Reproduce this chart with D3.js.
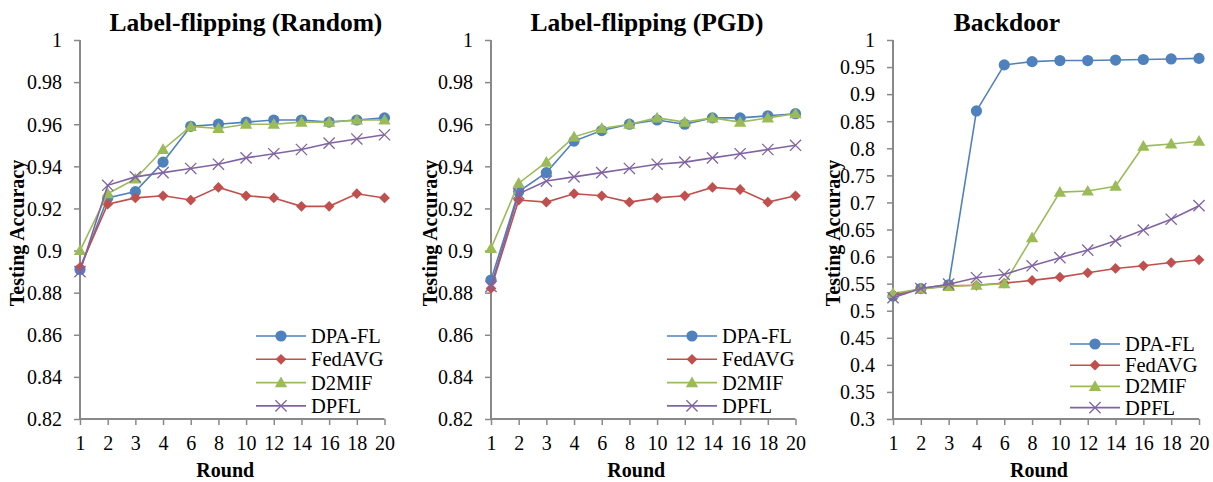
<!DOCTYPE html>
<html>
<head>
<meta charset="utf-8">
<script src="https://cdn.jsdelivr.net/npm/d3@7"></script>
<style>
  html, body { margin: 0; padding: 0; background: #fff; }
  svg { display: block; }
  svg text { font-family: "Liberation Serif", "Times New Roman", serif; }
</style>
</head>
<body>
<svg id="chart" width="1213" height="482"></svg>
<script>
// Communication rounds (categorical x axis)
const rounds = ["1", "2", "3", "4", "6", "8", "10", "12", "14", "16", "18", "20"];
const methods = ["DPA-FL", "FedAVG", "D2MIF", "DPFL"];
const titles = ["Label-flipping (Random)", "Label-flipping (PGD)", "Backdoor"];

// Label-flipping (Random)
const randomDPAFL  = [0.891, 0.925, 0.928, 0.942, 0.959, 0.960, 0.961, 0.962, 0.962, 0.961, 0.962, 0.963];
const randomFedAVG = [0.892, 0.922, 0.925, 0.926, 0.924, 0.930, 0.926, 0.925, 0.921, 0.921, 0.927, 0.925];
const randomD2MIF  = [0.900, 0.927, 0.934, 0.948, 0.959, 0.958, 0.960, 0.960, 0.961, 0.961, 0.962, 0.962];
const randomDPFL   = [0.890, 0.931, 0.935, 0.937, 0.939, 0.941, 0.944, 0.946, 0.948, 0.951, 0.953, 0.955];

// Label-flipping (PGD)
const pgdDPAFL  = [0.886, 0.928, 0.937, 0.952, 0.957, 0.960, 0.962, 0.960, 0.963, 0.963, 0.964, 0.965];
const pgdFedAVG = [0.882, 0.924, 0.923, 0.927, 0.926, 0.923, 0.925, 0.926, 0.930, 0.929, 0.923, 0.926];
const pgdD2MIF  = [0.901, 0.932, 0.942, 0.954, 0.958, 0.960, 0.963, 0.961, 0.963, 0.961, 0.963, 0.965];
const pgdDPFL   = [0.883, 0.927, 0.933, 0.935, 0.937, 0.939, 0.941, 0.942, 0.944, 0.946, 0.948, 0.950];

// Backdoor
const backdoorDPAFL  = [0.527, 0.541, 0.548, 0.869, 0.954, 0.960, 0.962, 0.962, 0.963, 0.964, 0.965, 0.966];
const backdoorFedAVG = [0.529, 0.540, 0.546, 0.547, 0.551, 0.556, 0.562, 0.570, 0.578, 0.583, 0.589, 0.594];
const backdoorD2MIF  = [0.532, 0.540, 0.545, 0.547, 0.550, 0.635, 0.719, 0.721, 0.730, 0.804, 0.808, 0.813];
const backdoorDPFL   = [0.524, 0.541, 0.549, 0.561, 0.567, 0.583, 0.598, 0.612, 0.629, 0.649, 0.669, 0.694];

// Y axis ticks per panel
const accTicks = [0.82, 0.84, 0.86, 0.88, 0.9, 0.92, 0.94, 0.96, 0.98, 1];
const backdoorTicks = [0.3, 0.35, 0.4, 0.45, 0.5, 0.55, 0.6, 0.65, 0.7, 0.75, 0.8, 0.85, 0.9, 0.95, 1];

const colors = { "DPA-FL": "#4F81BD", "FedAVG": "#C0504D", "D2MIF": "#9BBB59", "DPFL": "#8064A2" };
const axisColor = "#898989";
const serif = "Liberation Serif, Times New Roman, serif";

const svg = d3.select("#chart");

function marker(g, name, x, y) {
  const c = colors[name];
  const t = `translate(${x},${y})`;
  if (name === "DPA-FL") {
    g.append("circle").attr("cx", x).attr("cy", y).attr("r", 5.6).attr("fill", c);
  } else if (name === "FedAVG") {
    g.append("path").attr("d", d3.symbol(d3.symbolSquare, 58)())
      .attr("transform", t + " rotate(45)").attr("fill", c);
  } else if (name === "D2MIF") {
    g.append("path").attr("d", d3.symbol(d3.symbolTriangle, 66)())
      .attr("transform", t + " translate(0,1)").attr("fill", c);
  } else {
    const h = 5.6;
    g.append("path").attr("d", `M${-h},${-h}L${h},${h}M${-h},${h}L${h},${-h}`)
      .attr("transform", t).attr("stroke", c).attr("stroke-width", 1.3).attr("fill", "none");
  }
}

function drawPanel(cfg) {
  const x = d3.scalePoint().domain(rounds).range([cfg.x0, cfg.x1]);
  const y = d3.scaleLinear().domain(cfg.domain).range([cfg.y1, cfg.y0]);
  const g = svg.append("g").attr("font-family", serif);

  // y axis
  const ya = g.append("g").attr("transform", `translate(${cfg.x0},0)`)
    .call(d3.axisLeft(y).tickValues(cfg.ticks).tickSize(6).tickPadding(12)
      .tickFormat(d => String(+d.toFixed(2))));
  // x axis
  const xa = g.append("g").attr("transform", `translate(0,${cfg.y1})`)
    .call(d3.axisBottom(x).tickSize(6).tickPadding(11));
  [ya, xa].forEach(a => {
    a.attr("font-family", serif).attr("font-size", 20);
    a.select(".domain").attr("stroke", axisColor).attr("stroke-width", 2)
      .attr("d", a === ya ? `M0,${cfg.y0}V${cfg.y1}` : `M${cfg.x0},0H${cfg.x1}`);
    a.selectAll(".tick line").attr("stroke", axisColor).attr("stroke-width", 1.5);
    a.selectAll(".tick text").attr("fill", "#000");
  });
  ya.selectAll(".tick text").attr("dy", "0.34em");

  // series lines and markers
  const line = d3.line().x((d, i) => x(rounds[i])).y(d => y(d));
  cfg.series.forEach((vals, k) => {
    const name = methods[k];
    g.append("path").datum(vals).attr("d", line)
      .attr("fill", "none").attr("stroke", colors[name]).attr("stroke-width", 1.6);
    const mg = g.append("g");
    vals.forEach((v, i) => marker(mg, name, x(rounds[i]), y(v)));
  });

  // titles
  g.append("text").attr("x", cfg.titleX).attr("y", 31).attr("text-anchor", "middle")
    .attr("font-size", 25.5).attr("font-weight", "bold").text(cfg.title);
  g.append("text").attr("x", (cfg.x0 + cfg.x1) / 2 - 7).attr("y", 477).attr("text-anchor", "middle")
    .attr("font-size", 20).attr("font-weight", "bold").text("Round");
  g.append("text").attr("transform", `translate(${cfg.yTitleX},233) rotate(-90)`)
    .attr("text-anchor", "middle").attr("dy", "0.35em")
    .attr("font-size", 20).attr("font-weight", "bold").text("Testing Accuracy");

  // legend
  methods.forEach((name, k) => {
    const ly = cfg.legY + k * cfg.legStep;
    g.append("line").attr("x1", cfg.legX).attr("x2", cfg.legX + 50).attr("y1", ly).attr("y2", ly)
      .attr("stroke", colors[name]).attr("stroke-width", 1.6);
    marker(g, name, cfg.legX + 25, ly);
    g.append("text").attr("x", cfg.legX + 55).attr("y", ly).attr("dy", "0.34em")
      .attr("font-size", 20.5).text(name);
  });
}

drawPanel({
  title: titles[0], titleX: 246, yTitleX: 17,
  x0: 80, x1: 384.5, y0: 40, y1: 419, domain: [0.82, 1], ticks: accTicks,
  series: [randomDPAFL, randomFedAVG, randomD2MIF, randomDPFL],
  legX: 256, legY: 336, legStep: 23.3
});
drawPanel({
  title: titles[1], titleX: 647, yTitleX: 430,
  x0: 491, x1: 795.5, y0: 40, y1: 419, domain: [0.82, 1], ticks: accTicks,
  series: [pgdDPAFL, pgdFedAVG, pgdD2MIF, pgdDPFL],
  legX: 667, legY: 336, legStep: 23.3
});
drawPanel({
  title: titles[2], titleX: 1007, yTitleX: 833,
  x0: 893, x1: 1199, y0: 40, y1: 419, domain: [0.3, 1], ticks: backdoorTicks,
  series: [backdoorDPAFL, backdoorFedAVG, backdoorD2MIF, backdoorDPFL],
  legX: 1070, legY: 344, legStep: 21.2
});
</script>
</body>
</html>
